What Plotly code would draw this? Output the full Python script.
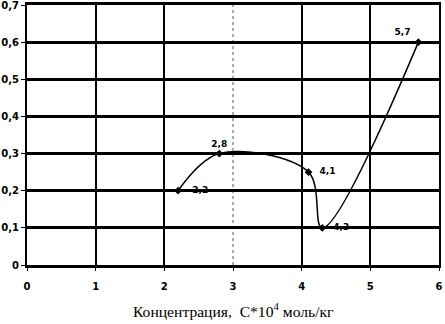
import plotly.graph_objects as go

x_vals = [2.2, 2.8, 4.1, 4.3, 5.7]
y_vals = [0.2, 0.3, 0.25, 0.1, 0.6]
point_labels = ["   2,2", "2,8", "  4,1", "  4,3", "5,7 "]
label_pos = ["middle right", "top center", "middle right", "middle right", "top left"]

x_ticks = [0, 1, 2, 3, 4, 5, 6]
x_ticktext = ["0", "1", "2", "3", "4", "5", "6"]
y_ticks = [0, 0.1, 0.2, 0.3, 0.4, 0.5, 0.6, 0.7]
y_ticktext = ["0", "0,1", "0,2", "0,3", "0,4", "0,5", "0,6", "0,7"]
x_title = "Концентрация,  С*10<sup>4</sup> моль/кг"

tick_font = dict(family="DejaVu Sans", size=10, color="black", weight="bold")

fig = go.Figure()
fig.add_trace(go.Scatter(
    x=x_vals, y=y_vals, mode="lines+markers+text",
    line=dict(color="black", width=1.5, shape="spline", smoothing=1.0),
    marker=dict(symbol="diamond", size=6, color="black"),
    text=point_labels, textposition=label_pos,
    textfont=dict(family="DejaVu Sans", size=9, color="black", weight="bold"),
    cliponaxis=False, showlegend=False,
))

fig.add_vline(x=3, line=dict(color="#555555", width=1, dash="dot"), layer="below")

fig.add_annotation(
    text=x_title, xref="paper", yref="paper", x=0.5, y=-0.172,
    xanchor="center", yanchor="middle", showarrow=False,
    font=dict(family="Liberation Serif", size=15.6, color="black"),
)

fig.update_layout(
    width=445, height=324,
    margin=dict(l=27, r=6, t=5, b=59, autoexpand=False),
    paper_bgcolor="white", plot_bgcolor="white",
    xaxis=dict(
        range=[0, 6], tickvals=x_ticks, ticktext=x_ticktext,
        showgrid=False, zeroline=False, automargin=False,
        showline=True, mirror=True, linecolor="black", linewidth=3,
        ticks="outside", ticklen=3, tickcolor="black", tickwidth=1,
        ticklabelstandoff=7, ticklabeloverflow="allow",
        tickfont=tick_font,
        minor=dict(tickmode="array", tickvals=[1, 2, 4, 5, 6], showgrid=True,
                   gridcolor="black", gridwidth=2, ticks=""),
    ),
    yaxis=dict(
        range=[0, 0.7], tickvals=y_ticks, ticktext=y_ticktext,
        showgrid=True, gridcolor="black", gridwidth=3, zeroline=False, automargin=False,
        showline=True, mirror=True, linecolor="black", linewidth=2,
        ticks="outside", ticklen=4, tickcolor="black", tickwidth=1,
        ticklabeloverflow="allow",
        tickfont=tick_font,
    ),
)

fig.write_html("out.html", config={"displayModeBar": False},
               post_script="document.body.style.margin='0';document.body.style.overflow='hidden';")
